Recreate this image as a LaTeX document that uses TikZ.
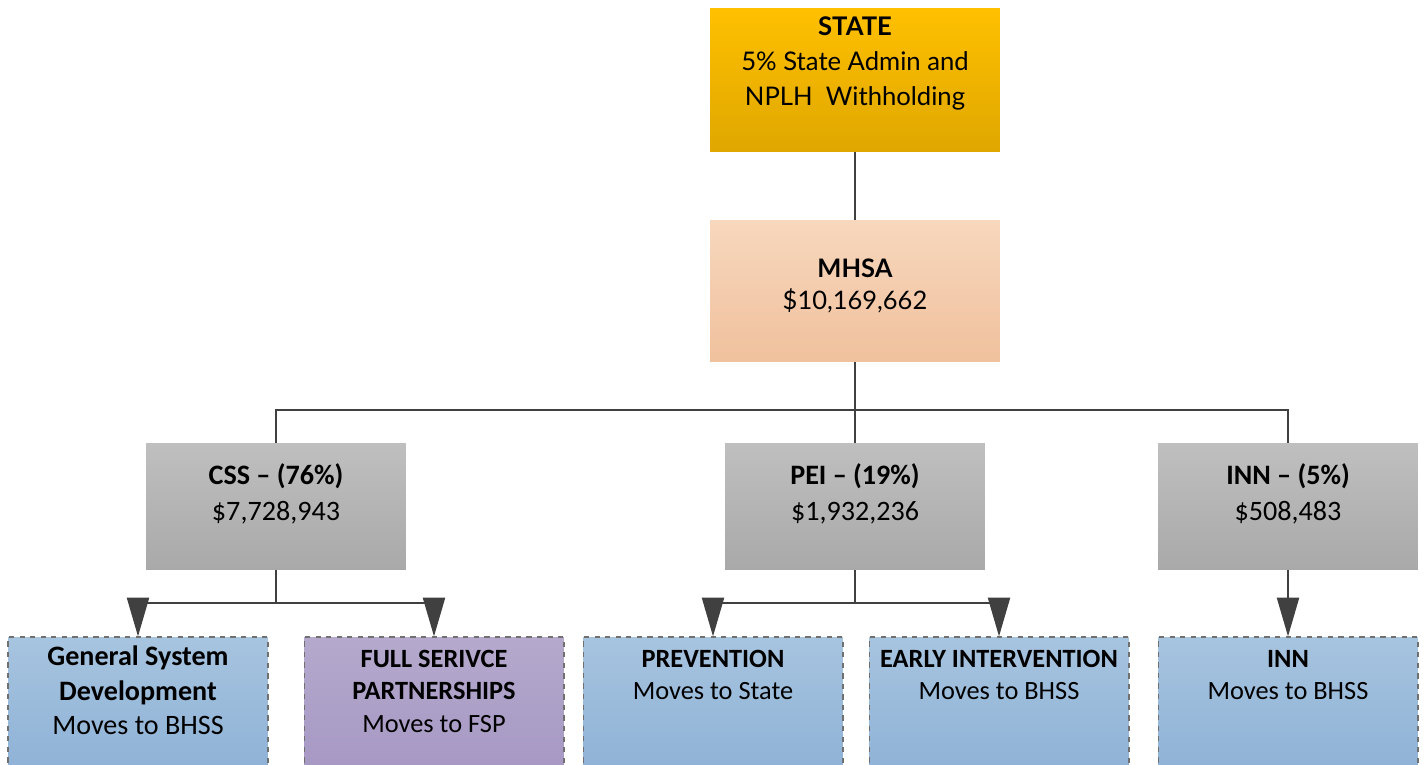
\documentclass[tikz,border=0pt]{standalone}
\usepackage{fontspec}
\setmainfont{Carlito}
\newfontfamily\headfont{Lato}
\usetikzlibrary{arrows.meta, positioning}

\definecolor{goldtop}{HTML}{FFC000}
\definecolor{goldbot}{HTML}{DFA700}
\definecolor{peachtop}{HTML}{F7D7BD}
\definecolor{peachbot}{HTML}{F0C19D}
\definecolor{graytop}{HTML}{BFBFBF}
\definecolor{graybot}{HTML}{A9A9A9}
\definecolor{bluetop}{HTML}{A7C4DF}
\definecolor{bluebot}{HTML}{8DB1D6}
\definecolor{purptop}{HTML}{B5A9CD}
\definecolor{purpbot}{HTML}{A597C3}
\definecolor{linegray}{HTML}{404040}
\definecolor{dashgray}{HTML}{707070}

% text sits at the top of a box of fixed height
\newcommand{\boxtext}[3]{\parbox[c][#1][t]{5.1cm}{\centering\vspace*{#2}#3}}

\begin{document}
\begin{tikzpicture}[
    x=0.02cm, y=-0.02cm,
    topbox/.style={rectangle, inner sep=0pt, minimum width=5.8cm, minimum height=2.86cm,
        font=\headfont\fontsize{14.6}{20}\selectfont},
    grybox/.style={rectangle, inner sep=0pt, minimum width=5.2cm, minimum height=2.54cm,
        top color=graytop, bottom color=graybot, font=\fontsize{16}{20.5}\selectfont},
    lowbox/.style={rectangle, inner sep=0pt, minimum width=5.2cm, minimum height=2.8cm,
        draw=dashgray, dashed, line width=0.6pt, top color=bluetop, bottom color=bluebot,
        font=\fontsize{15}{18.5}\selectfont},
    conn/.style={draw=linegray, line width=1.4pt},
    arrow/.style={conn, -{Triangle[length=0.78cm, width=0.44cm]}}
]
\useasboundingbox (0,0) rectangle (1426,764);

% Top
\node[topbox, top color=goldtop, bottom color=goldbot] (state) at (855,80)
    {\boxtext{2.86cm}{0.16cm}{\textbf{STATE}\\5\% State Admin and\\NPLH~~Withholding}};
\node[topbox, minimum height=2.84cm, top color=peachtop, bottom color=peachbot,
    font=\headfont\fontsize{14.5}{18}\selectfont] (mhsa) at (855,291)
    {\boxtext{2.84cm}{0.78cm}{\textbf{MHSA}\\\$10,169,662}};

% Components
\node[grybox] (css) at (276,506.5) {\boxtext{2.54cm}{0.42cm}{\textbf{CSS – (76\%)}\\\$7,728,943}};
\node[grybox] (pei) at (855,506.5) {\boxtext{2.54cm}{0.42cm}{\textbf{PEI – (19\%)}\\\$1,932,236}};
\node[grybox] (inn) at (1288,506.5) {\boxtext{2.54cm}{0.42cm}{\textbf{INN – (5\%)}\\\$508,483}};

% Where the money goes
\node[lowbox, font=\fontsize{16}{19.6}\selectfont] (gsd) at (138,707)
    {\boxtext{2.8cm}{0.18cm}{\textbf{General System}\\\textbf{Development}\\Moves to BHSS}};
\node[lowbox, top color=purptop, bottom color=purpbot] (fsp) at (434,707)
    {\boxtext{2.8cm}{0.26cm}{\textbf{FULL SERIVCE}\\\textbf{PARTNERSHIPS}\\Moves to FSP}};
\node[lowbox] (prev) at (713,707) {\boxtext{2.8cm}{0.26cm}{\textbf{PREVENTION}\\Moves to State}};
\node[lowbox] (early) at (999,707) {\boxtext{2.8cm}{0.26cm}{\textbf{EARLY INTERVENTION}\\Moves to BHSS}};
\node[lowbox] (innlow) at (1288,707) {\boxtext{2.8cm}{0.26cm}{\textbf{INN}\\Moves to BHSS}};

% Connectors
\coordinate (fork) at (855,410);
\coordinate (cssfork) at (276,603);
\coordinate (peifork) at (855,603);

\draw[conn] (state) -- (mhsa);
\draw[conn] (mhsa) -- (fork);
\draw[conn] (fork) -| (css);
\draw[conn] (fork) -- (pei);
\draw[conn] (fork) -| (inn);

\draw[conn] (css) -- (cssfork);
\draw[arrow] (cssfork) -| (gsd);
\draw[arrow] (cssfork) -| (fsp);
\draw[conn] (pei) -- (peifork);
\draw[arrow] (peifork) -| (prev);
\draw[arrow] (peifork) -| (early);
\draw[arrow] (inn) -- (innlow);

\end{tikzpicture}
\end{document}
